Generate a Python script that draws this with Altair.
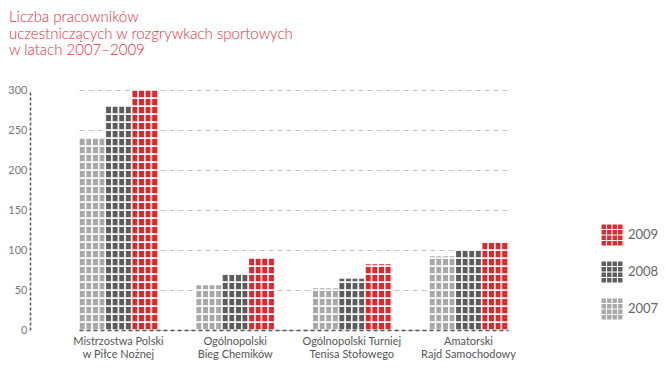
import math
import altair as alt
import pandas as pd

events = [
    "Mistrzostwa Polski\nw Piłce Nożnej",
    "Ogólnopolski\nBieg Chemików",
    "Ogólnopolski Turniej\nTenisa Stołowego",
    "Amatorski\nRajd Samochodowy",
]
years = ["2007", "2008", "2009"]
v2007 = [240, 57, 53, 93]
v2008 = [280, 71, 65, 101]
v2009 = [300, 90, 83, 112]
colors = {"2009": "#e3262b", "2008": "#5c5c5c", "2007": "#a8a8a8"}
cell_unit = 10
n_cols = 4

rows = []
for year, vals in zip(years, [v2007, v2008, v2009]):
    for ev, v in zip(events, vals):
        for k in range(math.ceil(v / cell_unit)):
            for c in range(n_cols):
                rows.append({
                    "event": ev,
                    "year": year,
                    "slot": f"{year}-{c}",
                    "y0": k * cell_unit,
                    "y1": min((k + 1) * cell_unit, v),
                })
df = pd.DataFrame(rows)
slots = [f"{y}-{c}" for y in years for c in range(n_cols)]

# 4x4 grid symbol for the legend, normalised to [-1, 1]
starts = [-0.95, -0.45, 0.05, 0.55]
grid_path = " ".join(
    f"M{x},{y}h0.4v0.4h-0.4z" for x in starts for y in starts
)

chart = alt.Chart(df).mark_rect(stroke="white", strokeWidth=1.5).encode(
    x=alt.X(
        "event:N",
        sort=events,
        scale=alt.Scale(range=[49, 478], paddingInner=0.323, paddingOuter=0),
        axis=alt.Axis(
            title=None,
            labelAngle=0,
            labelExpr="split(datum.label, '\\n')",
            labelFont="Lato",
            labelFontSize=11,
            labelColor="#555555",
            labelLineHeight=13.5,
            labelPadding=5,
            ticks=False,
            domainColor="#555555",
            domainDash=[4, 3],
            domainWidth=1.5,
        ),
    ),
    xOffset=alt.XOffset("slot:N", sort=slots, scale=alt.Scale(domain=slots, paddingInner=0, paddingOuter=0)),
    y=alt.Y(
        "y0:Q",
        scale=alt.Scale(domain=[0, 300], nice=False),
        axis=alt.Axis(
            title=None,
            values=[0, 50, 100, 150, 200, 250, 300],
            labelFont="Lato",
            labelFontSize=11,
            labelColor="#777777",
            labelPadding=3,
            ticks=False,
            domainColor="#555555",
            domainDash=[3, 2],
            domainWidth=1.5,
            grid=True,
            gridColor="#c4c4c4",
            gridDash=[5, 4],
            gridWidth=1,
        ),
    ),
    y2="y1:Q",
    color=alt.Color(
        "year:N",
        scale=alt.Scale(domain=["2009", "2008", "2007"],
                        range=[colors["2009"], colors["2008"], colors["2007"]]),
        legend=alt.Legend(
            title=None,
            orient="none",
            legendX=571,
            legendY=134,
            symbolType=grid_path,
            symbolSize=484,
            symbolStrokeWidth=0,
            symbolOpacity=1,
            labelFont="Lato",
            labelFontSize=13,
            labelColor="#666666",
            labelOffset=5,
            rowPadding=15,
            padding=0,
        ),
    ),
).properties(
    width=550,
    height=240,
    title=alt.TitleParams(
        text=["Liczba pracowników",
              "uczestniczących w rozgrywkach sportowych",
              "w latach 2007–2009"],
        anchor="start",
        frame="group",
        dx=-21,
        offset=26,
        font="Lato",
        fontSize=15,
        fontWeight=300,
        color="#e0303a",
        lineHeight=16.5,
    ),
    autosize=alt.AutoSizeParams(type="none"),
    padding={"left": 22, "top": 82, "right": 78, "bottom": 39},
).configure_view(stroke=None)

chart.save("out.html", embed_options={"renderer": "svg", "actions": False})
